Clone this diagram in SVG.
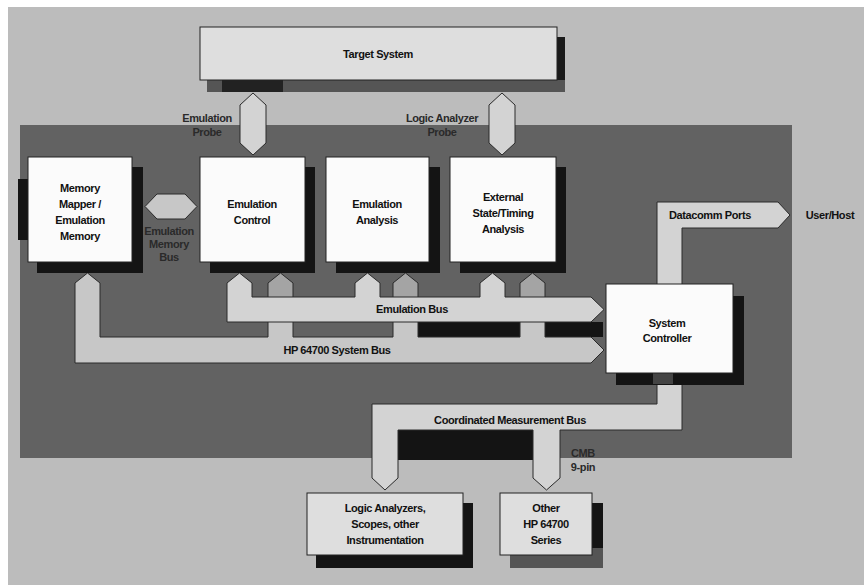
<svg xmlns="http://www.w3.org/2000/svg" width="864" height="585" viewBox="0 0 864 585">
<style>
text{font-family:"Liberation Sans",Arial,sans-serif;font-weight:bold;font-size:11px;fill:#111;text-anchor:middle;letter-spacing:-0.4px}
.lbl{fill:#2a2a2a}
.box{fill:#fbfbfb;stroke:#222;stroke-width:1}
.gbox{fill:#dedede;stroke:#222;stroke-width:1}
.shadow{fill:#141414}
.busL{fill:#d3d3d3;stroke:#2a2a2a;stroke-width:1;stroke-linejoin:round}
.busM{fill:#a4a4a4;stroke:#2a2a2a;stroke-width:1;stroke-linejoin:round}
.busS{fill:#c7c7c7;stroke:#2a2a2a;stroke-width:1;stroke-linejoin:round}
</style>
<rect x="0" y="0" width="864" height="585" fill="#ffffff"/>
<rect x="8" y="7" width="856" height="578" fill="#bcbcbc"/>
<rect x="20" y="125" width="772" height="333" fill="#626262"/>

<g id="target-system">
<rect x="557" y="37" width="8" height="55" fill="#1a1a1a"/>
<rect x="207" y="80" width="358" height="12" fill="#555"/>
<rect x="222" y="80" width="61" height="12" fill="#222"/>
<rect class="gbox" x="200" y="27" width="357" height="53"/>
<text x="378" y="58">Target System</text>
</g>

<g id="connectors">
<polygon class="busL" points="253,93 266,105 266,143 253,155 240,143 240,105"/>
<polygon class="busL" points="502,93 515,105 515,143 502,155 489,143 489,105"/>
<text class="lbl" x="207" y="122">Emulation</text>
<text class="lbl" x="207" y="136">Probe</text>
<text class="lbl" x="442" y="122">Logic Analyzer</text>
<text class="lbl" x="442" y="136">Probe</text>

<polygon class="busS" points="145,206.5 157,194 185,194 197,206.5 185,219 157,219"/>
<text class="lbl" x="169" y="235">Emulation</text>
<text class="lbl" x="169" y="248">Memory</text>
<text class="lbl" x="169" y="261">Bus</text>

<rect x="417" y="322" width="186" height="15" fill="#141414"/>
<path class="busS" d="M75,283 L87.5,273 L100,283 L100,337 L268,337 L268,300 L293,300 L293,337 L393,337 L393,300 L418,300 L418,337 L520,337 L520,300 L545,300 L545,337 L591,337 L604,350 L591,363 L75,363 Z"/>
<path class="busM" d="M268,298 L268,283 L280.5,273 L293,283 L293,298"/>
<path class="busM" d="M393,298 L393,283 L405.5,273 L418,283 L418,298"/>
<path class="busM" d="M520,298 L520,283 L532.5,273 L545,283 L545,298"/>
<path class="busL" d="M227,283 L239.5,273 L252,283 L252,297 L355,297 L355,283 L367.5,273 L380,283 L380,297 L480,297 L480,283 L492.5,273 L505,283 L505,297 L591,297 L604,309.5 L591,322 L227,322 Z"/>
<text x="412" y="313">Emulation Bus</text>
<text x="337" y="354">HP 64700 System Bus</text>

<path class="busL" d="M657,285 L657,202 L778,202 L790,215 L778,228 L682,228 L682,285 Z"/>
<text x="710" y="219">Datacomm Ports</text>
<text x="830" y="219">User/Host</text>

<rect x="397" y="430" width="136" height="30" fill="#141414"/>
<path class="busL" d="M372,404 L657,404 L657,384 L682,384 L682,430 L560,430 L560,478 L546.5,490 L533,478 L533,430 L398,430 L398,478 L385,490 L372,478 Z"/>
<text x="510" y="424">Coordinated Measurement Bus</text>
<text class="lbl" x="583" y="457">CMB</text>
<text class="lbl" x="583" y="471">9-pin</text>
</g>

<g id="memory-mapper">
<rect class="shadow" x="18" y="179" width="10" height="61"/>
<rect class="shadow" x="37" y="167" width="106" height="106"/>
<rect class="box" x="28" y="157" width="104" height="105"/>
<text x="80" y="192">Memory</text>
<text x="80" y="208">Mapper /</text>
<text x="80" y="224">Emulation</text>
<text x="80" y="240">Memory</text>
</g>

<g id="emulation-control">
<rect class="shadow" x="210" y="167" width="105" height="106"/>
<rect class="box" x="200" y="157" width="105" height="105"/>
<text x="252" y="208">Emulation</text>
<text x="252" y="224">Control</text>
</g>

<g id="emulation-analysis">
<rect class="shadow" x="336" y="167" width="104" height="106"/>
<rect class="box" x="326" y="157" width="103" height="105"/>
<text x="377" y="208">Emulation</text>
<text x="377" y="224">Analysis</text>
</g>

<g id="external-analysis">
<rect class="shadow" x="460" y="167" width="106" height="106"/>
<rect class="box" x="450" y="157" width="106" height="105"/>
<text x="503" y="201">External</text>
<text x="503" y="217">State/Timing</text>
<text x="503" y="233">Analysis</text>
</g>

<g id="system-controller">
<rect class="shadow" x="616" y="296" width="128" height="89"/>
<rect x="653" y="373" width="20" height="11" fill="#444"/>
<rect class="box" x="606" y="284" width="127" height="89"/>
<text x="667" y="327">System</text>
<text x="667" y="342">Controller</text>
</g>

<g id="logic-analyzers">
<rect class="shadow" x="316" y="503" width="157" height="65"/>
<rect class="gbox" x="307" y="493" width="156" height="62"/>
<text x="385" y="512">Logic Analyzers,</text>
<text x="385" y="528">Scopes, other</text>
<text x="385" y="544">Instrumentation</text>
</g>

<g id="other-hp64700">
<rect x="510" y="503" width="93" height="65" fill="#555"/>
<rect class="shadow" x="592" y="503" width="11" height="45"/>
<rect class="gbox" x="500" y="493" width="92" height="62"/>
<text x="546" y="512">Other</text>
<text x="546" y="528">HP 64700</text>
<text x="546" y="544">Series</text>
</g>
</svg>
